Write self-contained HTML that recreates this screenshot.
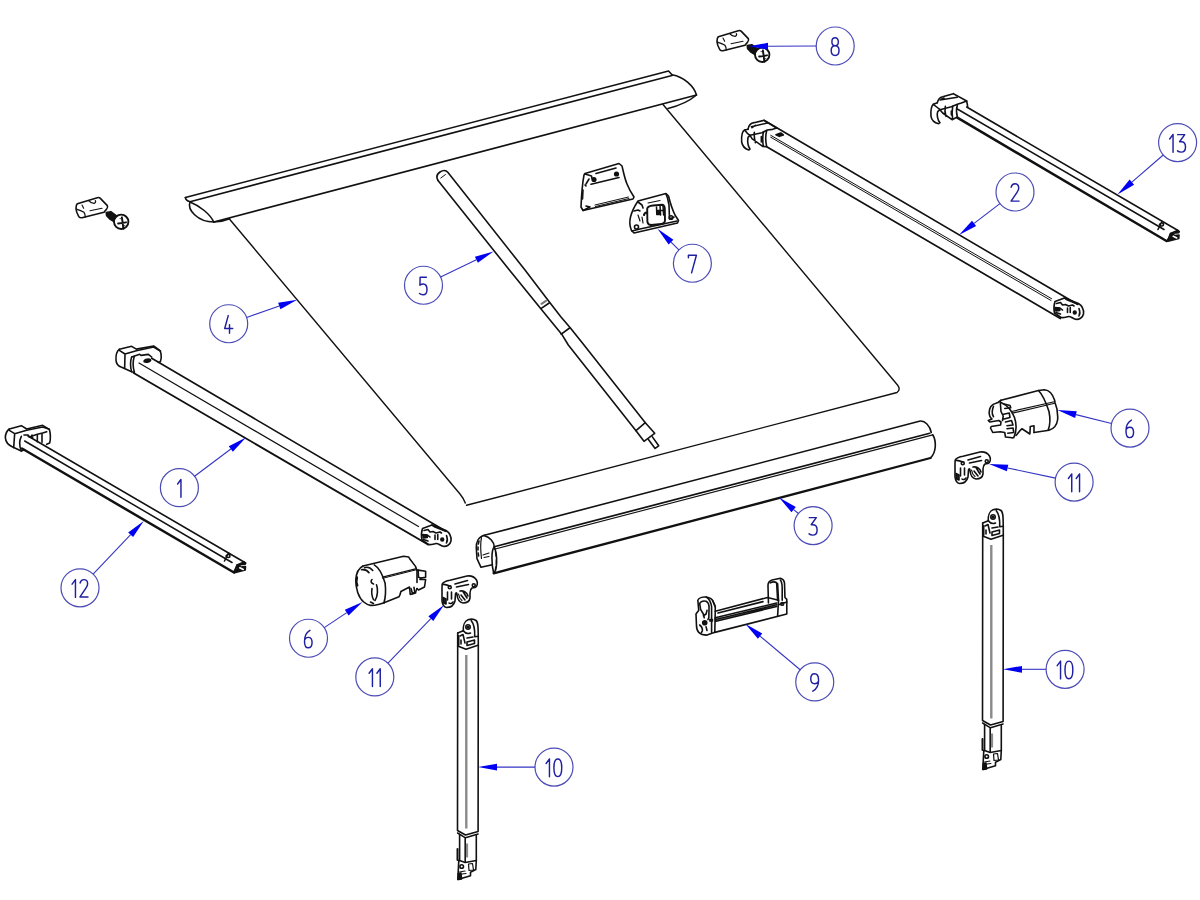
<!DOCTYPE html>
<html><head><meta charset="utf-8"><style>
html,body{margin:0;padding:0;background:#fff;}
svg{display:block;}
.s *{vector-effect:non-scaling-stroke;}
.d{fill:none;stroke:#1f1fa2;stroke-width:1.45;stroke-linecap:round;stroke-linejoin:round;vector-effect:non-scaling-stroke;}
</style></head><body>
<svg width="1200" height="900" viewBox="0 0 1200 900">
<rect width="1200" height="900" fill="#ffffff"/>
<g fill="none" stroke="#111" stroke-width="1.6" stroke-linecap="round" stroke-linejoin="round">
<!-- PART 4: top rail + fabric -->
<path d="M185.4,197.5 L668.5,71 L672,74.8"/>
<path d="M185.4,197.5 Q185.5,200.5 190,201.7 L672,75.5"/>
<path d="M672,74.8 C684,77 694,86 696.5,95 L213.75,222"/>
<path d="M190,202 C187,210 198,222 213.75,222"/>
<path d="M190,202 C200,206 210,214 213.75,222"/>
<path d="M213.75,222 Q222,222 229.6,218.75"/>
<path d="M696.5,95 Q686,104 668,108.5"/>
<path d="M229.2,218.75 L460,494 Q464,499 465.3,503 M466.5,505.3 L897,392.5 Q901,389.5 897.5,385 L663,104.5" stroke-width="1.4"/>
<!-- PART 5: pole -->
<path d="M438,180.4 C436,177 437,174 440,172 C443,170 446,170 448,172.5 L525,270 L549.2,301.7 L560.8,316.7 L570,327.5 L584,345 L645.3,422.7"/>
<path d="M438,180.4 L510,270.8 L541.25,309.2 L561.7,334.2 L568.3,345 L636,430.7"/>
<path d="M440.8,178 L445.4,174.6" stroke-width="1"/>
<path d="M541.25,308.3 L549.2,303 M561.25,334.2 L569.6,328"/>
<path d="M541.5,303.8 L546,300.8" stroke="#777" stroke-width="2"/>
<path d="M636,430.7 L645.3,422.7 L654.7,433.3 L644,441.3 Z"/>
<path d="M648.4,439.6 L655.1,448.4 L658.7,445.8 L652.4,436.9"/>
<!-- PART 3: roller -->
<path d="M484.3,535.3 L919.3,421.25 C925,420 930,426 931.25,432.5"/>
<path d="M494.3,546.7 L929.75,433.25" stroke-width="1.7"/>
<path d="M494.3,549.2 L932.75,434.9" stroke-width="1.1"/>
<path d="M932.75,434.75 C936.5,441 936.5,452 930.5,458"/>
<path d="M484.3,535.3 C478,537 476,543 476.3,548 L477,558.7 L481,567.3 L492.3,564.7"/>
<path d="M484.3,535.8 C490,537 494,542 494.3,546.7"/>
<path d="M494.3,546.7 C491,550 491.5,565 493.7,573.3 C497,571 498,556 494.3,546.7"/>
<path d="M493.7,573.3 L930.5,458" stroke-width="2.3"/>
<path d="M481.5,537.5 C480.5,542 480.5,550 481.5,558.5" stroke-width="1.2"/>
<path d="M479,541 L478.3,544 M478,547 L478,550 M478.2,553 L478.6,556" stroke-width="1.6"/>
<path d="M483,555 L489,553 M484,557.5 L489,556.5" stroke-width="1.1"/>
<path d="M495.5,552 L496,556 M496.3,560 L496.3,564 M495.8,567 L495.3,570" stroke-width="1.3"/>

<!-- ARM 1 -->
<path d="M151.7,358.2 L446,531.3" stroke-width="1.7"/>
<path d="M139,363 L418.5,526.5" stroke-width="1.2"/>
<path d="M133.7,373 L428,544.5" stroke-width="1.9"/>
<!-- arm 1 bracket (zoom coords origin 105,335 scale 15) -->
<g class="s" transform="translate(105,335) scale(0.0666667)">
 <path d="M215,215 C180,240 160,300 165,380 C170,440 200,470 250,485 L400,552 L440,560"/>
 <path d="M215,215 L400,170 L470,212 L730,165 L830,240 C845,290 845,360 830,400 L800,410"/>
 <path d="M215,230 L300,285 L295,500 M300,285 L470,235 L730,180 L830,240"/>
 <path d="M400,330 C380,380 375,480 400,550 M440,320 C420,380 415,470 440,555"/>
 <path d="M400,330 L520,290 L540,305 L650,290 L700,330"/>
 <ellipse cx="635" cy="385" rx="50" ry="22" fill="#111" transform="rotate(-10 635 385)"/>
</g>
<!-- arm 1 end cap (zoom coords origin 400,505 scale 20) -->
<g id="endA" class="s" transform="translate(400,505) scale(0.05)">
 <path d="M450,470 L640,400 L920,510 C1000,560 1030,620 1020,720 C1005,790 930,840 860,825 C800,805 760,765 720,770 C670,780 620,800 570,790 L440,700 C425,630 425,540 450,470 Z"/>
 <path d="M640,400 L700,440 L900,520 M480,510 L560,490 L600,540 L660,530 L720,560 L800,540 L830,560"/>
 <path d="M450,600 C500,590 560,600 600,640 M470,690 L560,720" />
 <path d="M700,600 L700,690 M755,590 L755,690 M930,610 C950,660 950,720 930,760"/>
 <circle cx="845" cy="690" r="28" fill="#111"/>
 <path d="M455,590 L540,600 L545,650 L470,660 Z" fill="#111"/>
</g>
<!-- ARM 2 -->
<path d="M764,120.3 L1077.8,304.5"/>
<path d="M770.7,135.3 L1051.6,298.7 M770.7,137.2 L1051,300.5" stroke-width="1"/>
<path d="M766.7,146.7 L1060.3,318.5" stroke-width="1.7"/>
<use href="#endA" transform="translate(632.5,-227)"/>
<!-- arm 2 bracket (zoom origin 730,110 scale 15) -->
<g id="brB" class="s" transform="translate(730,110) scale(0.0666667)">
 <path d="M270,290 C280,230 320,195 360,190 L510,155 L560,190 M510,155 L700,270"/>
 <path d="M320,250 L560,195 M330,265 L380,230"/>
 <path d="M270,290 L220,300 C180,320 170,400 175,480 C185,540 220,580 280,600 L300,585 C270,540 260,470 270,410 L300,380"/>
 <path d="M220,300 L260,350 L300,380 L480,340 L560,300 L640,290 L700,270"/>
 <path d="M300,380 L330,430 L490,545 L550,550 M365,335 C360,380 365,430 380,490 M500,330 C490,390 490,480 500,545 M550,310 C530,380 535,480 550,550"/>
 <path d="M470,400 L470,480" stroke-width="1.6"/>
 <path d="M690,370 L760,345 L800,375 L740,395 Z" fill="#111"/>
</g>
<!-- ARM 12 -->
<path d="M28,436 L244,562"/>
<path d="M24.7,441 L232,562.5" stroke-width="1.5"/>
<path d="M22,448.5 L234,572.5" stroke-width="2.5"/>
<!-- arm 12 bracket (zoom origin 0,415 scale 15) -->
<g id="brA" class="s" transform="translate(0,415) scale(0.0666667)">
 <path d="M140,210 C100,240 80,290 80,340 C85,410 120,450 190,480 L320,540 L370,520"/>
 <path d="M140,210 L320,160 L400,210 L640,155 L740,215 C755,270 760,360 745,420 L700,440"/>
 <path d="M140,230 L220,280 L205,490 M220,280 L400,230 L640,180 L740,215"/>
 <path d="M320,320 C290,380 290,470 320,540 M360,300 L420,300 L440,330 L560,290 L640,270 L700,250"/>
 <path d="M560,300 L560,400 M630,280 L630,410 M480,300 C470,320 470,340 490,340"/>
</g>
<!-- arm 12 end (zoom origin 200,535 scale 20) -->
<g id="endB" class="s" transform="translate(200,535) scale(0.05)">
 <path d="M880,540 L915,560 L905,585 L740,600 L735,650 L910,630 L905,700 L690,755 L670,740 Z" fill="#111"/>
 <path d="M795,655 L865,690" stroke="#fff" stroke-width="1.6"/>
 <path d="M880,540 L740,600 L680,740" />
 <path d="M520,420 C540,380 600,380 600,420 C600,460 540,460 520,420 M490,520 L570,360"/>
</g>
<!-- ARM 13 -->
<path d="M966.7,107 L1178,230.5"/>
<path d="M957.3,109 L1164,229.5" stroke-width="1.5"/>
<path d="M957.3,117.7 L1166.5,241" stroke-width="2.5"/>
<use href="#endB" transform="translate(933.5,-331.5)"/>
<!-- arm 13 bracket (zoom origin 920,85 scale 15) -->
<g class="s" transform="translate(920,85) scale(0.0666667)">
 <path d="M260,265 C270,215 300,185 340,175 L500,130 L560,165 M500,130 L700,240 L715,320"/>
 <path d="M300,225 L560,185 M320,215 L360,195"/>
 <path d="M260,265 L200,290 C165,320 160,400 165,470 C175,530 210,565 280,580 L300,565 C260,520 250,440 265,400 L300,370"/>
 <path d="M200,290 L250,330 L300,370 L470,325 L560,290 L620,270 L700,240"/>
 <path d="M300,370 L340,420 L480,520 L560,480 M380,320 C370,370 375,430 390,470 M490,320 C480,380 480,450 490,520"/>
 <path d="M560,300 C545,350 545,420 560,480"/>
 <path d="M470,390 L470,450" stroke-width="1.6"/>
</g>
<!-- LEG 10 left -->
<g id="leg">
 <path d="M457.7,633 L457.5,830.5 L465.5,835 L478.1,831.5 L478.3,645.3"/>
 <path d="M457.7,646 L466,649.3 L478,645.3"/>
 <path d="M466.3,655 L466.3,828.5" stroke="#8a8a8a" stroke-width="2.4" stroke-linecap="butt"/>
 <path d="M457.6,833 L465.5,837.8 L478.1,834" stroke-width="1.5"/>
 <path d="M459.6,834.5 L459.6,860.5 M476.3,835.5 L476.3,860.5 M465.2,838.5 L465.2,862" />
 <path d="M467,843.5 L467,857.5" stroke="#8a8a8a" stroke-width="2.2" stroke-linecap="butt"/>
 <path d="M457.5,849 L457.5,860" stroke-width="2"/>
 <path d="M458.8,860.3 L465.2,862.5 L476.3,860.5 L475.8,869.5 L470.5,872.2 L470.5,875.8 L457.8,879.5 Z"/>
 <circle cx="461.7" cy="866.5" r="1.8"/>
 <path d="M468.5,864 L472.5,863.5 L473.5,870 L469,870.5 Z" stroke-width="1.2"/>
 <path d="M459.5,872 L465,871 M462,874 L466,873.5" stroke-width="1.1"/>
 <path d="M458.3,873.5 L461,873 L461.5,879 L458.3,879.5 Z" fill="#111"/>
 <!-- top bracket -->
 <path d="M457.7,633 L463.3,630.7 C463,626 464.5,621 468,619.8 C471,618.8 474,619 476,620.5 C478,622 478.3,625 478.3,645.3"/>
 <path d="M471.3,620.7 C474,624 475,630 474.7,636.7 L478.3,636.2"/>
 <circle cx="468" cy="627" r="2.2"/>
 <circle cx="468" cy="627" r="0.8" fill="#111"/>
 <path d="M463.3,630.7 C465,633 468,634 470.5,633 M460,636 L463,634.5 L465,643 M461,640 L461,644 M467,642 L474.5,640 L474.5,643.5 L467,645.5 Z M467,638 L473,637"/>
 <path d="M458.5,636 L458.5,645" stroke-width="2"/>
</g>
<use href="#leg" transform="translate(525,-110)"/>
<!-- PART 6 left (zoom origin 345,548 scale 13.33) -->
<g class="s" transform="translate(345,548) scale(0.075)">
 <path d="M240,240 C190,265 150,330 145,420 C140,540 180,660 250,720 C280,745 310,760 340,765 C400,770 500,740 520,730"/>
 <path d="M240,240 L780,110 L850,120 L860,140 L940,245 L960,300 L960,460"/>
 <path d="M390,225 C450,260 500,350 535,470 C545,560 540,660 520,730"/>
 <path d="M260,262 C300,250 340,265 370,300 M220,290 C260,285 300,300 320,330"/>
 <path d="M500,388 L940,278" stroke-width="1.4"/><path d="M502,404 L945,292" stroke-width="1"/>
 <path d="M520,730 L720,650 C735,630 740,600 745,580 L860,520 L870,620 L940,600 C945,570 950,560 960,540"/>
 <path d="M880,540 L900,610 L930,590 L920,525"/>
 <path d="M960,300 L975,295 L1075,310 L1075,390 L1010,400 L1000,420 L1075,420 L1060,520 L980,560 L960,540"/>
 <path d="M975,295 L980,390 L1010,400"/>
 <path d="M360,420 C340,440 345,470 380,480 M420,490 C440,540 440,640 400,700 M360,540 C350,600 360,650 380,690 M340,720 L380,740"/>
 <path d="M160,390 C150,430 150,470 165,500" stroke-width="2.2"/>
</g>
<!-- PART 6 right (zoom origin 980,380 scale 13.33) -->
<g class="s" transform="translate(980,380) scale(0.075)">
 <path d="M280,270 L780,140 L860,130 C920,135 970,190 995,270 L1000,300 C1030,370 1040,450 1035,530 C1025,600 990,650 920,670 L720,700"/>
 <path d="M780,140 C830,190 880,300 920,420 C940,520 935,600 910,665"/>
 <path d="M420,420 L990,290 M430,442 L995,310" stroke-width="1.2"/>
 <path d="M720,700 L720,610 L670,620 L665,720 L560,650 C530,670 500,720 480,740"/>
 <path d="M280,300 C350,330 420,400 460,500 C490,590 490,680 450,770 L430,770"/>
 <path d="M280,270 L240,300 L175,325 C130,350 110,420 130,480 C140,510 160,520 160,520 L110,540 L130,560 L250,540 L280,560 L275,600 L150,620 L140,640 L170,700 L270,690 L330,700 L340,760 L430,770"/>
 <path d="M270,290 L280,420 L310,480 L300,540 M320,320 L400,340 L410,370 L330,380 M300,460 L390,440 L400,500 L320,520 M340,560 L420,540 L440,600 L360,610 M360,650 L440,640 L450,700 L370,710"/>
 <path d="M180,350 C160,400 160,460 180,490"/>
</g>
<!-- PART 11 left (zoom origin 435,568 scale 20) -->
<g id="p11" class="s" transform="translate(435,568) scale(0.05)">
 <path d="M150,310 C180,270 240,255 300,245 L640,160 C720,150 790,180 830,240 C860,290 850,370 800,390 L740,400 C710,420 700,450 700,500 L700,600 C690,660 640,700 560,700 C490,690 450,630 440,530 C440,500 420,480 410,520 L400,660 C380,740 320,790 230,790 C180,780 150,740 140,660 L140,400 C140,360 140,330 150,310 Z"/>
 <path d="M400,320 L650,250 M430,380 L670,330" stroke-width="1.6"/>
 <circle cx="775" cy="345" r="30"/>
 <circle cx="295" cy="385" r="30"/>
 <path d="M150,330 C200,320 250,340 300,360 M250,480 L250,640 M330,480 L330,620 M500,460 C560,450 640,480 660,560 M520,540 L600,640 M560,470 L640,600 M280,700 C300,720 340,710 360,680"/>
 <path d="M160,590 L220,620 L220,720 L170,700 Z" fill="#222"/>
 <path d="M470,520 C480,580 500,620 540,650" stroke-width="1.2"/>
</g>
<use href="#p11" transform="translate(513,-124)"/>
<!-- PART 7 (zoom origin 570,155 scale 10) -->
<g class="s" transform="translate(570,155) scale(0.1)">
 <path d="M150,185 L490,85 L520,110 C535,170 545,230 570,290 C590,340 620,390 640,420 L630,440 L130,555 L110,520 C115,400 125,280 140,200 Z"/>
 <path d="M150,190 L215,210 L220,235 M160,510 L200,520 L130,555"/>
 <path d="M260,185 L460,130" stroke-width="1.6"/>
 <circle cx="240" cy="245" r="18" fill="#111"/>
 <circle cx="465" cy="190" r="18" fill="#111"/>
 <path d="M210,292 L490,225"/>
 <path d="M250,500 L585,420 M255,515 L590,435" stroke-width="1"/>
 <path d="M130,350 L125,440" stroke-width="1.6"/>
 <path d="M190,240 L160,290 M150,300 L160,310"/>
 <path d="M680,460 L960,385 L985,410 C1000,470 1020,540 1050,600 L1085,655 L1075,680 L640,780 L615,755 C600,720 595,660 605,620 C615,580 640,520 680,460 Z"/>
 <path d="M680,470 L720,500 L730,530 M640,560 L680,550 L700,560 M620,760 L700,740 L1070,660"/>
 <path d="M780,480 L900,455" stroke-width="1.2"/>
 <path d="M772,535 C778,516 800,508 830,505 L922,498 C940,502 948,520 948,540 L950,655 C948,678 935,688 915,690 L812,700 C790,700 778,690 774,668 Z" stroke-width="1.9"/>
 <path d="M865,520 L868,595 M900,505 L906,600 M866,556 L940,552 M930,505 L936,600" stroke-width="1.5"/><path d="M872,560 L900,558 L902,595 L872,595 Z" fill="#111"/>
 <circle cx="1010" cy="625" r="18"/>
 <circle cx="665" cy="720" r="20"/>
 <path d="M960,390 L975,430 L990,500 L995,640 L1040,620"/>
 <path d="M680,600 L700,660 M720,620 L730,680" stroke-width="1.2"/>
 <path d="M740,600 C745,580 760,570 770,580" stroke-width="2.2"/>
</g>
<!-- PART 8 cap + screw (zoom origin 705,20 scale 15) -->
<g id="cap8" class="s" transform="translate(705,20) scale(0.0666667)">
 <path d="M200,250 L500,160 C520,155 535,160 545,170 L650,280 C660,300 650,320 640,330 L600,380 L270,460 C245,465 225,455 220,440 C195,400 180,360 180,320 C180,290 185,265 200,250 Z"/>
 <path d="M185,330 C220,340 270,360 300,380 C315,400 320,420 318,450" stroke-width="1.3"/>
 <path d="M370,205 C390,230 420,245 450,245 C470,240 480,220 470,205" stroke-width="1.3"/>
 <path d="M390,355 L570,320" stroke-width="1.1"/>
 <path d="M270,270 L295,320" stroke-width="1.1"/>
 <path d="M634,383 L702,370 L802,445 L790,545 L690,482 L640,432 Z" fill="#111"/>
 <circle cx="858" cy="522" r="108" fill="#fff" stroke-width="1.9"/>
 <path d="M812,548 C850,545 890,538 930,530 M868,455 C875,500 885,560 890,626" stroke-width="1.9"/><path d="M840,470 L850,480 M900,590 L915,575" stroke-width="1"/>
</g>
<use href="#cap8" transform="translate(-641,167)"/>
<!-- PART 9 (zoom origin 685,570 scale 10.9) -->
<g class="s" transform="translate(685,570) scale(0.0917)">
 <path d="M140,330 C150,305 190,290 230,295 C270,300 300,320 310,350 L330,400 L330,450 L325,680 L240,710 C200,710 170,700 150,680 C130,660 125,640 125,600 L120,480 L150,440 Z"/>
 <path d="M160,365 C170,345 200,335 230,340 C250,350 265,380 262,420 L260,520 L250,540 M160,365 L170,430 L200,480 L210,520 M240,440 L230,480 L200,500"/>
 <path d="M230,295 C260,310 280,340 290,400 L290,680 M300,330 L330,400"/>
 <path d="M330,450 L900,300 L1020,330 M330,520 L1000,360 M335,540 L1000,380 M338,558 L1000,398" />
 <path d="M330,520 L335,560" stroke-width="1.6"/>
 <path d="M360,470 L850,345" />
 <path d="M325,680 L1110,480 L1110,320 L1090,300 L1085,140 C1080,110 1060,95 1040,90 L950,110 C920,120 905,140 905,170 L910,360"/>
 <path d="M930,140 C960,125 990,125 1010,150 L1020,330 L1010,500 M1000,150 L1010,330 M1040,110 C1055,130 1060,160 1060,200 L1060,330"/>
 <path d="M1020,380 L1110,350" />
 <circle cx="215" cy="575" r="22" fill="#111"/>
 <path d="M160,600 C190,620 200,660 180,680 M270,540 L300,540 M270,555 L300,555 M230,620 L240,660"/>
 <circle cx="1060" cy="370" r="15"/>
</g>

</g>
<circle cx="835.2" cy="46.0" r="19.0" fill="none" stroke="#4c4cb6" stroke-width="1.2"/>
<path class="d" transform="translate(831.03,37.55) scale(0.86,0.96)" d="M4.75,0.3 C2.3,0.3 1,2 1,4.4 C1,6.9 2.6,8.6 4.75,8.6 C6.9,8.6 8.5,6.9 8.5,4.4 C8.5,2 7.2,0.3 4.75,0.3 Z M4.75,8.6 C1.9,8.6 0.2,10.6 0.2,13.6 C0.2,16.8 2.1,18.7 4.75,18.7 C7.4,18.7 9.3,16.8 9.3,13.6 C9.3,10.6 7.6,8.6 4.75,8.6 Z"/>
<line x1="816.2" y1="46.07" x2="768.00" y2="46.23" stroke="#3434c4" stroke-width="1.1"/>
<path d="M749,46.3 L767.99,42.83 L768.01,49.63 Z" fill="#0000f2"/><circle cx="1177.6" cy="142.6" r="19.0" fill="none" stroke="#4c4cb6" stroke-width="1.2"/>
<path class="d" transform="translate(1169.44,134.15) scale(0.86,0.96)" d="M0.3,5 L4.2,0.3 L4.2,18.8"/>
<path class="d" transform="translate(1177.33,134.15) scale(0.86,0.96)" d="M0.4,0.5 L8.6,0.5 L2.6,7.9 C2.9,7.9 3.6,7.9 4.4,7.9 C7.6,7.9 9.5,10.3 9.5,13.3 C9.5,16.6 7.4,18.7 4.4,18.7 C2.7,18.7 1.2,18.2 0.2,17.4"/>
<line x1="1163.22" y1="155.02" x2="1131.88" y2="182.08" stroke="#3434c4" stroke-width="1.1"/>
<path d="M1117.5,194.5 L1129.66,179.51 L1134.10,184.66 Z" fill="#0000f2"/><circle cx="1015" cy="192" r="19.0" fill="none" stroke="#4c4cb6" stroke-width="1.2"/>
<path class="d" transform="translate(1010.83,183.55) scale(0.86,0.96)" d="M0.4,3.8 C1,1.5 2.6,0.3 4.8,0.3 C7.4,0.3 9.2,2.2 9.2,4.6 C9.2,6.3 8.4,7.6 7.2,9.2 L0.3,18.3 L9.6,18.3"/>
<line x1="999.93" y1="203.57" x2="974.07" y2="223.43" stroke="#3434c4" stroke-width="1.1"/>
<path d="M959,235 L972.00,220.73 L976.14,226.12 Z" fill="#0000f2"/><circle cx="692.4" cy="263.25" r="19.0" fill="none" stroke="#4c4cb6" stroke-width="1.2"/>
<path class="d" transform="translate(688.23,254.80) scale(0.86,0.96)" d="M0.2,3.0 L0.2,0.5 L9.5,0.5 L3.9,18.8"/>
<line x1="678.89" y1="249.89" x2="671.01" y2="242.11" stroke="#3434c4" stroke-width="1.1"/>
<path d="M657.5,228.75 L673.40,239.69 L668.62,244.52 Z" fill="#0000f2"/><circle cx="423.5" cy="285.25" r="19.0" fill="none" stroke="#4c4cb6" stroke-width="1.2"/>
<path class="d" transform="translate(419.33,276.80) scale(0.86,0.96)" d="M8.2,0.5 L0.9,0.5 L0.7,8.8 C1.7,8 3.0,7.5 4.5,7.5 C7.3,7.5 8.9,9.9 8.9,13.1 C8.9,16.5 7.0,18.7 4.3,18.7 C2.6,18.7 1.2,18.2 0.2,17.4"/>
<line x1="440.61" y1="277.0" x2="476.39" y2="259.75" stroke="#3434c4" stroke-width="1.1"/>
<path d="M493.5,251.5 L477.86,262.81 L474.91,256.69 Z" fill="#0000f2"/><circle cx="228.7" cy="323.75" r="19.0" fill="none" stroke="#4c4cb6" stroke-width="1.2"/>
<path class="d" transform="translate(224.53,315.30) scale(0.86,0.96)" d="M4.3,0.3 L0.2,13.7 L9.5,13.7 M5.8,9.7 L5.8,18.7"/>
<line x1="246.64" y1="317.48" x2="279.26" y2="306.07" stroke="#3434c4" stroke-width="1.1"/>
<path d="M297.2,299.8 L280.39,309.28 L278.14,302.86 Z" fill="#0000f2"/><circle cx="1130" cy="428.1" r="19.0" fill="none" stroke="#4c4cb6" stroke-width="1.2"/>
<path class="d" transform="translate(1125.83,419.65) scale(0.86,0.96)" d="M6.5,0.5 C3.0,2.2 0.2,5.8 0.2,11.8 C0.2,16.3 2.0,18.7 4.5,18.7 C7.2,18.7 9,16.5 9,13.2 C9,10 7.2,7.9 4.6,7.9 C2.6,7.9 1.0,9 0.3,10.6"/>
<line x1="1111.57" y1="423.5" x2="1075.93" y2="414.60" stroke="#3434c4" stroke-width="1.1"/>
<path d="M1057.5,410 L1076.76,411.30 L1075.11,417.90 Z" fill="#0000f2"/><circle cx="1074.1" cy="482.1" r="19.0" fill="none" stroke="#4c4cb6" stroke-width="1.2"/>
<path class="d" transform="translate(1068.13,473.65) scale(0.86,0.96)" d="M0.3,5 L4.2,0.3 L4.2,18.8"/>
<path class="d" transform="translate(1075.94,473.65) scale(0.86,0.96)" d="M0.3,5 L4.2,0.3 L4.2,18.8"/>
<line x1="1055.52" y1="478.15" x2="1007.58" y2="467.95" stroke="#3434c4" stroke-width="1.1"/>
<path d="M989,464 L1008.29,464.63 L1006.88,471.28 Z" fill="#0000f2"/><circle cx="179.4" cy="487.7" r="19.0" fill="none" stroke="#4c4cb6" stroke-width="1.2"/>
<path class="d" transform="translate(177.34,479.25) scale(0.86,0.96)" d="M0.3,5 L4.2,0.3 L4.2,18.8"/>
<line x1="194.57" y1="476.26" x2="230.83" y2="448.94" stroke="#3434c4" stroke-width="1.1"/>
<path d="M246,437.5 L232.87,451.65 L228.78,446.22 Z" fill="#0000f2"/><circle cx="813.1" cy="525.6" r="19.0" fill="none" stroke="#4c4cb6" stroke-width="1.2"/>
<path class="d" transform="translate(808.93,517.15) scale(0.86,0.96)" d="M0.4,0.5 L8.6,0.5 L2.6,7.9 C2.9,7.9 3.6,7.9 4.4,7.9 C7.6,7.9 9.5,10.3 9.5,13.3 C9.5,16.6 7.4,18.7 4.4,18.7 C2.7,18.7 1.2,18.2 0.2,17.4"/>
<line x1="798.44" y1="513.52" x2="793.66" y2="509.58" stroke="#3434c4" stroke-width="1.1"/>
<path d="M779,497.5 L795.83,506.96 L791.50,512.21 Z" fill="#0000f2"/><circle cx="80" cy="587.8" r="19.0" fill="none" stroke="#4c4cb6" stroke-width="1.2"/>
<path class="d" transform="translate(71.84,579.35) scale(0.86,0.96)" d="M0.3,5 L4.2,0.3 L4.2,18.8"/>
<path class="d" transform="translate(79.73,579.35) scale(0.86,0.96)" d="M0.4,3.8 C1,1.5 2.6,0.3 4.8,0.3 C7.4,0.3 9.2,2.2 9.2,4.6 C9.2,6.3 8.4,7.6 7.2,9.2 L0.3,18.3 L9.6,18.3"/>
<line x1="93.12" y1="574.05" x2="130.63" y2="534.74" stroke="#3434c4" stroke-width="1.1"/>
<path d="M143.75,521 L133.09,537.09 L128.17,532.40 Z" fill="#0000f2"/><circle cx="308.5" cy="638.25" r="19.0" fill="none" stroke="#4c4cb6" stroke-width="1.2"/>
<path class="d" transform="translate(304.33,629.80) scale(0.86,0.96)" d="M6.5,0.5 C3.0,2.2 0.2,5.8 0.2,11.8 C0.2,16.3 2.0,18.7 4.5,18.7 C7.2,18.7 9,16.5 9,13.2 C9,10 7.2,7.9 4.6,7.9 C2.6,7.9 1.0,9 0.3,10.6"/>
<line x1="324.28" y1="627.66" x2="346.73" y2="612.59" stroke="#3434c4" stroke-width="1.1"/>
<path d="M362.5,602 L348.62,615.41 L344.83,609.77 Z" fill="#0000f2"/><circle cx="374.8" cy="676.9" r="19.0" fill="none" stroke="#4c4cb6" stroke-width="1.2"/>
<path class="d" transform="translate(368.83,668.45) scale(0.86,0.96)" d="M0.3,5 L4.2,0.3 L4.2,18.8"/>
<path class="d" transform="translate(376.64,668.45) scale(0.86,0.96)" d="M0.3,5 L4.2,0.3 L4.2,18.8"/>
<line x1="387.98" y1="663.21" x2="430.82" y2="618.69" stroke="#3434c4" stroke-width="1.1"/>
<path d="M444,605 L433.27,621.05 L428.38,616.33 Z" fill="#0000f2"/><circle cx="814.75" cy="681.9" r="19.0" fill="none" stroke="#4c4cb6" stroke-width="1.2"/>
<path class="d" transform="translate(810.58,673.45) scale(0.86,0.96)" d="M2.6,18.5 C6.2,16.6 9.3,12.8 9.3,7.0 C9.3,2.6 7.4,0.3 4.7,0.3 C2.0,0.3 0.2,2.5 0.2,5.6 C0.2,8.8 2.1,10.7 4.7,10.7 C6.7,10.7 8.4,9.7 9.2,8.3"/>
<line x1="800.17" y1="669.71" x2="760.08" y2="636.19" stroke="#3434c4" stroke-width="1.1"/>
<path d="M745.5,624 L762.26,633.58 L757.90,638.80 Z" fill="#0000f2"/><circle cx="1065.1" cy="669.3" r="19.0" fill="none" stroke="#4c4cb6" stroke-width="1.2"/>
<path class="d" transform="translate(1056.94,660.85) scale(0.86,0.96)" d="M0.3,5 L4.2,0.3 L4.2,18.8"/>
<path class="d" transform="translate(1064.83,660.85) scale(0.86,0.96)" d="M4.75,0.3 C1.6,0.3 0.2,3.5 0.2,9.5 C0.2,15.5 1.6,18.7 4.75,18.7 C7.9,18.7 9.3,15.5 9.3,9.5 C9.3,3.5 7.9,0.3 4.75,0.3 Z"/>
<line x1="1046.1" y1="669.3" x2="1022.00" y2="669.30" stroke="#3434c4" stroke-width="1.1"/>
<path d="M1003,669.3 L1022.00,665.90 L1022.00,672.70 Z" fill="#0000f2"/><circle cx="554" cy="767.1" r="19.0" fill="none" stroke="#4c4cb6" stroke-width="1.2"/>
<path class="d" transform="translate(545.84,758.65) scale(0.86,0.96)" d="M0.3,5 L4.2,0.3 L4.2,18.8"/>
<path class="d" transform="translate(553.74,758.65) scale(0.86,0.96)" d="M4.75,0.3 C1.6,0.3 0.2,3.5 0.2,9.5 C0.2,15.5 1.6,18.7 4.75,18.7 C7.9,18.7 9.3,15.5 9.3,9.5 C9.3,3.5 7.9,0.3 4.75,0.3 Z"/>
<line x1="535.0" y1="767.1" x2="497.00" y2="767.10" stroke="#3434c4" stroke-width="1.1"/>
<path d="M478,767.1 L497.00,763.70 L497.00,770.50 Z" fill="#0000f2"/>
</svg>
</body></html>
